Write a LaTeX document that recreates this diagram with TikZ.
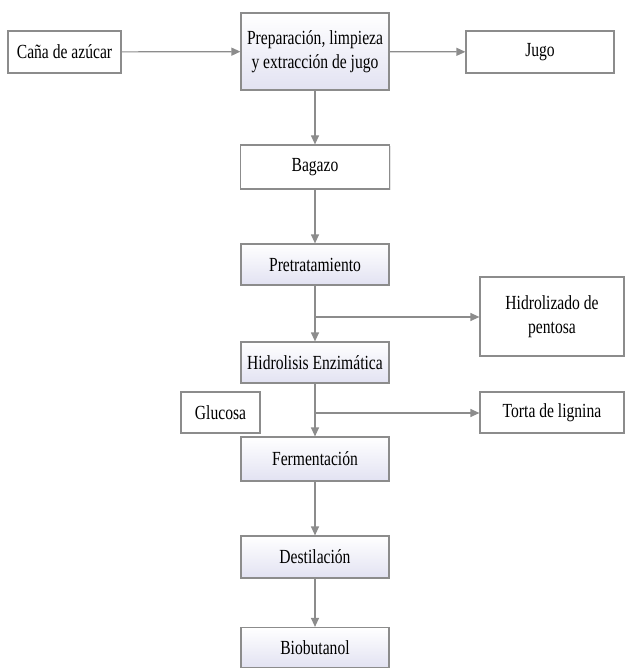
\documentclass[tikz,border=0pt]{standalone}
\usepackage{fontspec}
\setmainfont{Liberation Serif}[FakeStretch=0.78]
\usetikzlibrary{arrows.meta,shadows}
\definecolor{linegray}{RGB}{140,140,140}
\definecolor{lavender}{RGB}{226,226,242}

\begin{document}
\begin{tikzpicture}[x=1pt, y=-1pt,
  box/.style={draw=linegray, line width=1.2pt, fill=white, inner sep=0pt, align=center,
    font=\fontsize{20}{24}\selectfont,
    drop shadow={opacity=0.2, shadow xshift=1pt, shadow yshift=-1pt}},
  stage/.style={box, top color=white, bottom color=lavender},
  flow/.style={draw=linegray, line width=1.2pt, -{Triangle[length=9pt,width=8pt]}}]
  \useasboundingbox (0,0) rectangle (625,668);
  % Top row
  \node[box, minimum width=113pt, minimum height=42pt] (cana) at (64.5,52) {Caña de azúcar};
  \node[stage, minimum width=148pt, minimum height=77pt] (prep) at (315,51.5)
    {Preparación, limpieza\\y extracción de jugo};
  \node[box, minimum width=148pt, minimum height=42pt] (jugo) at (540,52) {Jugo};
  % Main column
  \node[box, minimum width=149pt, minimum height=44pt] (bagazo) at (315,167) {Bagazo};
  \node[stage, minimum width=148pt, minimum height=41pt] (pretrat) at (315,264.5) {Pretratamiento};
  \node[stage, minimum width=148pt, minimum height=41pt] (hidrolisis) at (315,362.5) {Hidrolisis Enzimática};
  \node[stage, minimum width=148pt, minimum height=44pt] (ferm) at (315,459) {Fermentación};
  \node[stage, minimum width=148pt, minimum height=42pt] (destil) at (315,557) {Destilación};
  \node[stage, minimum width=148pt, minimum height=40pt] (bio) at (315,647.5) {Biobutanol};
  % Side products
  \node[box, minimum width=144pt, minimum height=79pt] (pentosa) at (552,316.5) {Hidrolizado de\\pentosa};
  \node[box, minimum width=144pt, minimum height=41pt] (torta) at (552,412.5) {Torta de lignina};
  \node[box, minimum width=79pt, minimum height=41pt] (glucosa) at (220.5,412.5) {Glucosa};
  % Flow
  \draw[flow] (cana) -- (prep);
  \draw[flow] (prep) -- (jugo);
  \draw[flow] (prep) -- (bagazo);
  \draw[flow] (bagazo) -- (pretrat);
  \draw[flow] (pretrat) -- (hidrolisis);
  \draw[flow] (hidrolisis) -- (ferm);
  \draw[flow] (ferm) -- (destil);
  \draw[flow] (destil) -- (bio);
  % Branches
  \coordinate (split1) at (315,317);
  \coordinate (split2) at (315,413);
  \draw[flow] (split1) -- (split1 -| pentosa.west);
  \draw[flow] (split2) -- (split2 -| torta.west);
\end{tikzpicture}
\end{document}
